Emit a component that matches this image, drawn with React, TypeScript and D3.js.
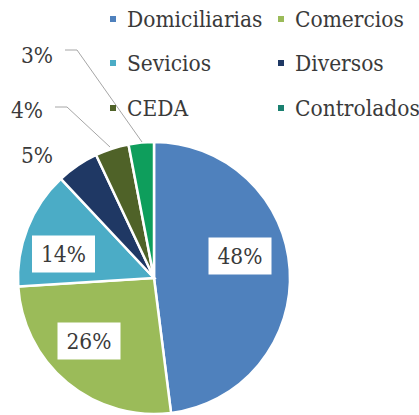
import React from "react";
import * as d3 from "d3";

const categories = ["Domiciliarias", "Comercios", "Sevicios", "Diversos", "CEDA", "Controlados"];
const values = [48, 26, 14, 5, 4, 3];
const sliceColors = ["#4F81BD", "#9BBB59", "#4BACC6", "#1F3864", "#4F6228", "#0E9E5C"];
const legendColors = ["#4F81BD", "#9BBB59", "#4BACC6", "#1F3864", "#4F6228", "#1A8070"];

const W = 419, H = 415;
const cx = 154, cy = 278, R = 136;
const FONT = "'DejaVu Serif Condensed', 'DejaVu Serif', serif";

// label placements (inside boxes for big slices, outside for small)
const labelPos: [number, number][] = [
  [240, 256],
  [89, 341],
  [63.5, 254],
  [37, 155],
  [27, 110],
  [37, 55],
];
const boxed = [true, true, true, false, false, false];

export default function App() {
  const pie = d3.pie<number>().sort(null).value((d) => d)(values);
  const arc = d3.arc<d3.PieArcDatum<number>>().innerRadius(0).outerRadius(R);
  const legendX = [110, 278];
  const legendY = [19, 63, 108];

  return (
    <svg width={W} height={H} style={{ position: "absolute", left: 0, top: 0 }}>
      <rect width={W} height={H} fill="#fff" />
      <g transform={`translate(${cx},${cy})`}>
        {pie.map((p, i) => (
          <path key={i} d={arc(p) || ""} fill={sliceColors[i]} stroke="#fff" strokeWidth={2.5} />
        ))}
      </g>
      {/* leader lines */}
      <polyline points="55,107 67,107 110,147" fill="none" stroke="#a6a6a6" strokeWidth={1} />
      <polyline points="65,50 77,50 142,142" fill="none" stroke="#a6a6a6" strokeWidth={1} />
      {values.map((v, i) => {
        const [x, y] = labelPos[i];
        return (
          <g key={i}>
            {boxed[i] && <rect x={x - 31.5} y={y - 18.5} width={63} height={37} fill="#fff" />}
            <text x={x} y={y} textAnchor="middle" dominantBaseline="central" fontFamily={FONT} fontSize={22.5} fill="#3a3a3a">
              {v}%
            </text>
          </g>
        );
      })}
      {categories.map((c, i) => {
        const x = legendX[i % 2];
        const y = legendY[Math.floor(i / 2)];
        return (
          <g key={c}>
            <rect x={x} y={y - 3} width={6} height={6} fill={legendColors[i]} />
            <text x={x + 17} y={y} dominantBaseline="central" fontFamily={FONT} fontSize={22.5} fill="#3a3a3a">
              {c}
            </text>
          </g>
        );
      })}
    </svg>
  );
}
